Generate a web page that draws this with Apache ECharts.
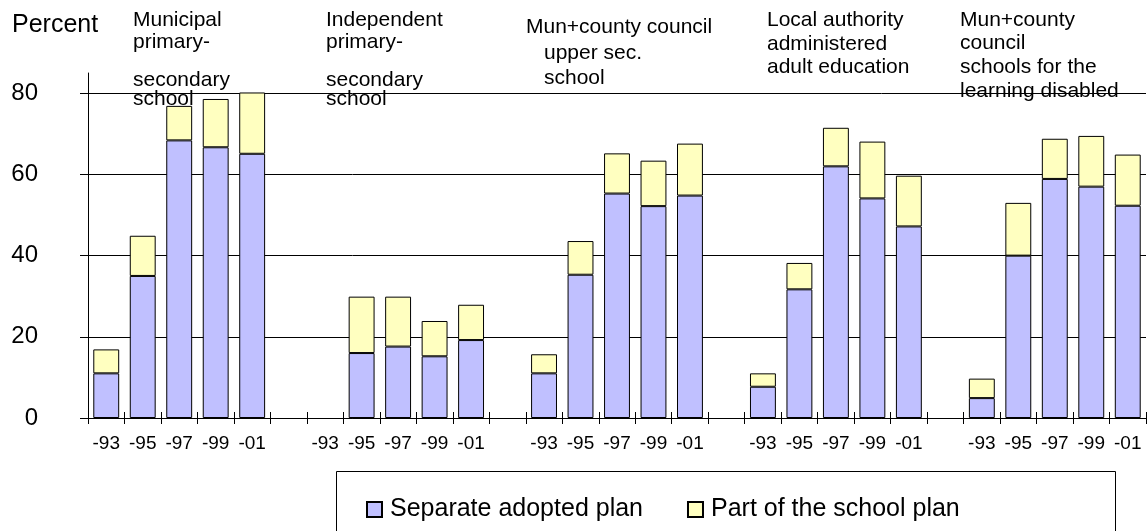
<!DOCTYPE html>
<html>
<head>
<meta charset="utf-8">
<title>School plans by school type</title>
<script src="https://cdn.jsdelivr.net/npm/echarts@6/dist/echarts.min.js"></script>
<style>
  html, body { margin: 0; padding: 0; background: #fff; }
  #chart { width: 1148px; height: 531px; }
</style>
</head>
<body>
<div id="chart"></div>
<script>
// Survey years shown for each school type
const years = ['-93', '-95', '-97', '-99', '-01'];

// Share (percent) with a separately adopted plan, per school type and year
const separateMunicipal   = [11, 35, 68.4, 66.7, 65.1];
const separateIndependent = [null, 16, 17.6, 15.2, 19.2];
const separateUpperSec    = [11, 35.3, 55.3, 52.2, 54.8];
const separateAdultEd     = [7.7, 31.7, 62, 54.1, 47.2];
const separateDisabled    = [4.9, 40, 58.9, 57, 52.3];

// Share (percent) where the plan is part of the school plan
const partMunicipal   = [5.9, 9.9, 8.5, 11.9, 15.1];
const partIndependent = [null, 13.9, 12.3, 8.7, 8.7];
const partUpperSec    = [4.7, 8.3, 9.9, 11.2, 12.8];
const partAdultEd     = [3.3, 6.5, 9.5, 14, 12.5];
const partDisabled    = [4.8, 13, 9.9, 12.5, 12.6];

// Heading lines written above each group of bars
const titleMunicipal   = ['Municipal', 'primary-', 'secondary', 'school'];
const titleIndependent = ['Independent', 'primary-', 'secondary', 'school'];
const titleUpperSec    = ['Mun+county council', 'upper sec.', 'school'];
const titleAdultEd     = ['Local authority', 'administered', 'adult education'];
const titleDisabled    = ['Mun+county', 'council', 'schools for the', 'learning disabled'];

const yTicks = [0, 20, 40, 60, 80];
const seriesNames = ['Separate adopted plan', 'Part of the school plan'];

// One empty category between consecutive groups
function withGaps(groups) {
  const out = [];
  groups.forEach((g, i) => {
    if (i > 0) out.push('-');
    g.forEach(v => out.push(v == null ? '-' : v));
  });
  return out;
}
const categories = [];
for (let i = 0; i < 5; i++) {
  if (i > 0) categories.push('');
  years.forEach(y => categories.push(y));
}
const separateData = withGaps([separateMunicipal, separateIndependent, separateUpperSec, separateAdultEd, separateDisabled]);
const partData = withGaps([partMunicipal, partIndependent, partUpperSec, partAdultEd, partDisabled]);

const FONT = '"Liberation Sans", Arial, Helvetica, sans-serif';

// Heading text blocks: [lines, x of each line, baseline of each line]
const headingLayout = [
  [titleMunicipal,   [133, 133, 133, 133], [26.7, 48.3, 86.7, 106]],
  [titleIndependent, [326, 326, 326, 326], [26.7, 48.3, 86.7, 106]],
  [titleUpperSec,    [526, 544, 544],      [34, 60, 85]],
  [titleAdultEd,     [767, 767, 767],      [26.7, 51, 74]],
  [titleDisabled,    [960, 960, 960, 960], [26.7, 49.3, 74, 97.3]]
];
const graphics = [];
headingLayout.forEach(([lines, xs, bases]) => {
  lines.forEach((t, i) => {
    graphics.push({
      type: 'text', x: xs[i], y: bases[i] - 6.5, z: 100,
      style: { text: t, font: '21px ' + FONT, fill: '#000', verticalAlign: 'middle', align: 'left' }
    });
  });
});
graphics.push({
  type: 'text', x: 12, y: 25.5, z: 100,
  style: { text: 'Percent', font: '25px ' + FONT, fill: '#000', verticalAlign: 'middle', align: 'left' }
});
// Legend frame
graphics.push({
  type: 'rect', z: 1,
  shape: { x: 336.5, y: 471.5, width: 779, height: 90 },
  style: { fill: '#fff', stroke: '#000', lineWidth: 1 }
});

const chart = echarts.init(document.getElementById('chart'), null, { renderer: 'canvas' });
chart.setOption({
  animation: false,
  backgroundColor: '#fff',
  textStyle: { fontFamily: FONT, color: '#000' },
  graphic: graphics,
  grid: { left: 88, right: 2, top: 73, bottom: 113, containLabel: false },
  legend: {
    data: seriesNames,
    left: 361, top: 492,
    icon: 'rect', itemWidth: 15, itemHeight: 15, itemGap: 44,
    textStyle: { fontSize: 25, color: '#000', fontFamily: FONT, padding: [0, 0, 0, 3] },
    z: 5
  },
  xAxis: [
    {
      type: 'category', data: categories,
      axisLine: { lineStyle: { color: '#000', width: 1 } },
      axisTick: { show: true, interval: 0, length: 6, lineStyle: { color: '#000' } },
      axisLabel: { interval: 0, fontSize: 19, color: '#000', margin: 16, fontFamily: FONT },
      splitLine: { show: false }
    },
    {
      type: 'category', data: categories, position: 'bottom',
      axisLine: { show: false },
      axisTick: { show: true, inside: true, interval: 0, length: 6, lineStyle: { color: '#000' } },
      axisLabel: { show: false },
      splitLine: { show: false }
    }
  ],
  yAxis: [
    {
      type: 'value', min: yTicks[0], max: 85, interval: yTicks[1] - yTicks[0],
      axisLine: { show: true, lineStyle: { color: '#000', width: 1 } },
      axisTick: { show: true, length: 8, customValues: yTicks, lineStyle: { color: '#000' } },
      axisLabel: { fontSize: 24, color: '#000', margin: 50, customValues: yTicks, fontFamily: FONT },
      splitLine: { show: true, lineStyle: { color: '#000', width: 1 } }
    },
    {
      type: 'value', min: yTicks[0], max: 85, interval: yTicks[1] - yTicks[0], position: 'left',
      axisLine: { show: false },
      axisTick: { show: true, inside: true, length: 8, customValues: yTicks, lineStyle: { color: '#000' } },
      axisLabel: { show: false },
      splitLine: { show: false }
    }
  ],
  series: [
    {
      name: seriesNames[0], type: 'bar', stack: 'plan', data: separateData,
      barCategoryGap: '29%',
      itemStyle: { color: '#C0C0FF', borderColor: '#000', borderWidth: 1 },
      emphasis: { disabled: true }
    },
    {
      name: seriesNames[1], type: 'bar', stack: 'plan', data: partData,
      barCategoryGap: '29%',
      itemStyle: { color: '#FFFFC0', borderColor: '#000', borderWidth: 1 },
      emphasis: { disabled: true }
    }
  ]
});
</script>
</body>
</html>
